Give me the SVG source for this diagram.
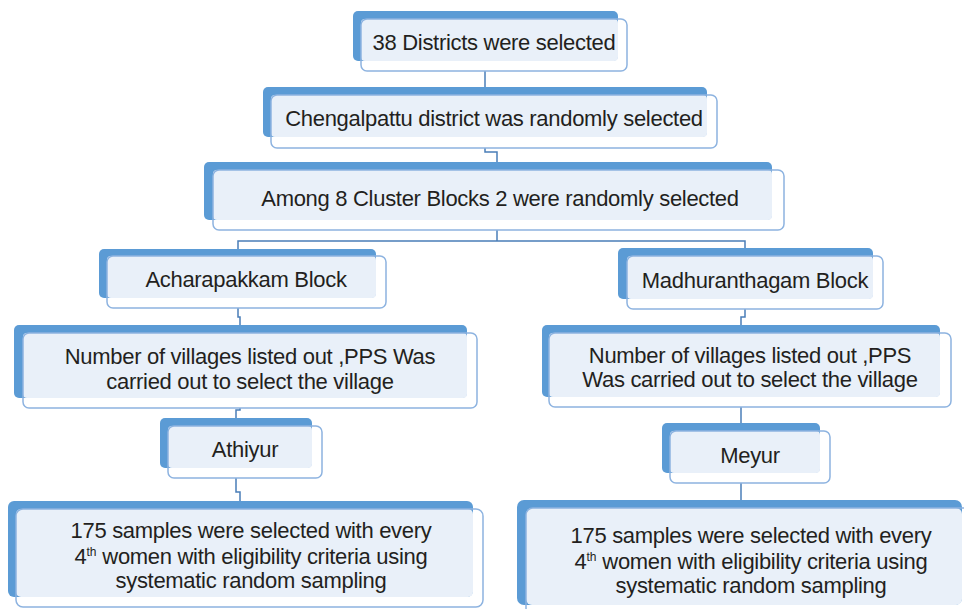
<svg xmlns="http://www.w3.org/2000/svg" width="964" height="609" viewBox="0 0 964 609">
<style>
.back{fill:#5b9bd5}
.fill{fill:#e9f0f9}
.outline{fill:none;stroke:#8db3e0;stroke-width:1.5}
.lbl{font-family:"Liberation Sans",Arial,sans-serif;font-size:22px;letter-spacing:-0.3px;fill:#231f20;text-anchor:middle}
.sup{font-size:12px;letter-spacing:0}
.conn{fill:none;stroke:#4a7eb8;stroke-width:1.5}
</style>
<rect width="964" height="609" fill="#ffffff"/>
<g id="connectors">
<polyline class="conn" points="485,71 485,88"/>
<polyline class="conn" points="485,148 485,152 497,152 497,162"/>
<polyline class="conn" points="497,230 497,241"/>
<polyline class="conn" points="238,249 238,241 745,241 745,248"/>
<polyline class="conn" points="238,308 238,317 240,317 240,325"/>
<polyline class="conn" points="240,408 240,410 236,410 236,418"/>
<polyline class="conn" points="236,478 236,492 240,492 240,501"/>
<polyline class="conn" points="745,309 745,317 741,317 741,325"/>
<polyline class="conn" points="741,407 741,423"/>
<polyline class="conn" points="741,483 741,500"/>
</g>
<g id="n1">
<rect class="back" x="353" y="11" width="265" height="50" rx="5"/>
<rect class="fill" x="361" y="19" width="257" height="42" rx="4"/>
<rect class="outline" x="361" y="19" width="266" height="52" rx="6"/>
<text class="lbl" x="494" y="50">38 Districts were selected</text>
</g>
<g id="n2">
<rect class="back" x="263" y="87" width="444" height="50" rx="5"/>
<rect class="fill" x="271" y="95" width="436" height="42" rx="4"/>
<rect class="outline" x="271" y="95" width="446" height="53" rx="6"/>
<text class="lbl" x="494" y="126">Chengalpattu district was randomly selected</text>
</g>
<g id="n3">
<rect class="back" x="204" y="162" width="568" height="58" rx="5"/>
<rect class="fill" x="213" y="170" width="559" height="50" rx="4"/>
<rect class="outline" x="213" y="170" width="571" height="60" rx="6"/>
<text class="lbl" x="500" y="206">Among 8 Cluster Blocks 2 were randomly selected</text>
</g>
<g id="n4">
<rect class="back" x="99" y="249" width="277" height="49" rx="5"/>
<rect class="fill" x="107" y="256" width="269" height="42" rx="4"/>
<rect class="outline" x="107" y="256" width="279" height="52" rx="6"/>
<text class="lbl" x="246" y="287">Acharapakkam Block</text>
</g>
<g id="n5">
<rect class="back" x="618" y="248" width="255" height="51" rx="5"/>
<rect class="fill" x="627" y="256" width="246" height="43" rx="4"/>
<rect class="outline" x="627" y="256" width="256" height="53" rx="6"/>
<text class="lbl" x="755" y="288">Madhuranthagam Block</text>
</g>
<g id="n6">
<rect class="back" x="14" y="325" width="453" height="73" rx="5"/>
<rect class="fill" x="23" y="333" width="444" height="65" rx="4"/>
<rect class="outline" x="23" y="333" width="454" height="75" rx="6"/>
<text class="lbl" x="250" y="364">Number of villages listed out ,PPS Was</text>
<text class="lbl" x="250" y="389">carried out to select the village</text>
</g>
<g id="n7">
<rect class="back" x="542" y="325" width="398" height="72" rx="5"/>
<rect class="fill" x="549" y="333" width="391" height="64" rx="4"/>
<rect class="outline" x="549" y="333" width="402" height="74" rx="6"/>
<text class="lbl" x="750" y="363">Number of villages listed out ,PPS</text>
<text class="lbl" x="750" y="387">Was carried out to select the village</text>
</g>
<g id="n8">
<rect class="back" x="160" y="418" width="152" height="50" rx="5"/>
<rect class="fill" x="168" y="426" width="144" height="42" rx="4"/>
<rect class="outline" x="168" y="426" width="154" height="52" rx="6"/>
<text class="lbl" x="245" y="457">Athiyur</text>
</g>
<g id="n9">
<rect class="back" x="662" y="423" width="158" height="50" rx="5"/>
<rect class="fill" x="670" y="431" width="150" height="42" rx="4"/>
<rect class="outline" x="670" y="431" width="160" height="52" rx="6"/>
<text class="lbl" x="750" y="463">Meyur</text>
</g>
<g id="n10">
<rect class="back" x="8" y="501" width="465" height="96" rx="6"/>
<rect class="fill" x="16" y="509" width="457" height="88" rx="5"/>
<rect class="outline" x="16" y="509" width="467" height="98" rx="7"/>
<text class="lbl" x="251" y="538">175 samples were selected with every</text>
<text class="lbl" x="251" y="564">4<tspan class="sup" dy="-8">th</tspan><tspan dy="8"> women with eligibility criteria using</tspan></text>
<text class="lbl" x="251" y="588">systematic random sampling</text>
</g>
<g id="n11">
<rect class="back" x="517" y="500" width="445" height="105" rx="7"/>
<rect class="fill" x="526" y="508" width="436" height="97" rx="6"/>
<rect class="outline" x="526" y="508" width="446" height="107" rx="7"/>
<text class="lbl" x="751" y="543">175 samples were selected with every</text>
<text class="lbl" x="751" y="569">4<tspan class="sup" dy="-8">th</tspan><tspan dy="8"> women with eligibility criteria using</tspan></text>
<text class="lbl" x="751" y="593">systematic random sampling</text>
</g>
</svg>
